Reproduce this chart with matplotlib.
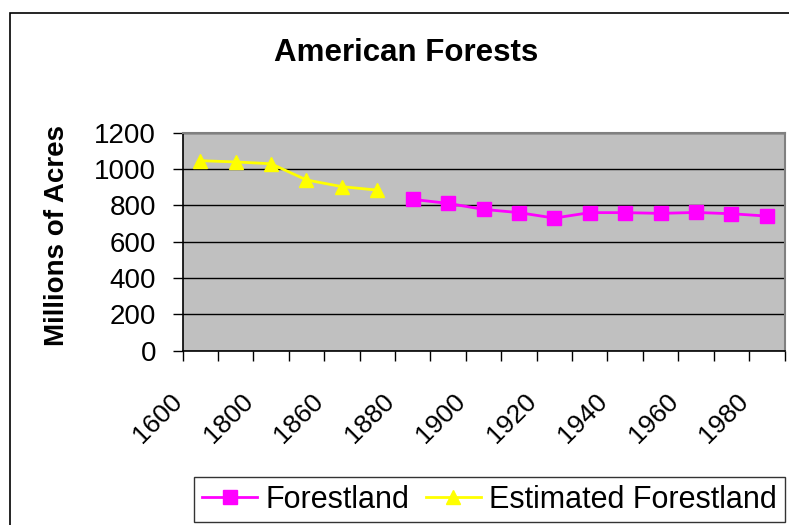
import matplotlib
matplotlib.use("Agg")
import matplotlib.pyplot as plt
from matplotlib.patches import Rectangle

plt.rcParams["font.family"] = ["Liberation Sans", "DejaVu Sans"]

# category axis (every other year gets a label)
years = ["1600", "1700", "1800", "1850", "1860", "1870", "1880", "1890", "1900",
         "1910", "1920", "1930", "1940", "1950", "1960", "1970", "1980"]
estimated = [1046, 1039, 1029, 940, 903, 884]
forestland = [833, 811, 778, 760, 730, 760, 760, 756, 761, 754, 741]

W, H = 789, 525
fig = plt.figure(figsize=(W / 100, H / 100), dpi=100)
fig.patch.set_facecolor("white")

# chart area border (cut off at right and bottom)
fig.patches.append(Rectangle((9.5 / W, -0.1), 1.2, (525 - 13) / H + 0.1,
                             transform=fig.transFigure, fill=False,
                             edgecolor="black", linewidth=1.2))

left, right, top, bottom = 182.5, 784.5, 132.7, 350.7
ax = fig.add_axes([left / W, (H - bottom) / H, (right - left) / W, (bottom - top) / H])
ax.set_facecolor("#C0C0C0")

x_est = list(range(len(estimated)))
x_for = list(range(len(estimated), len(estimated) + len(forestland)))

ax.plot(x_for, forestland, color="#FF00FF", lw=2, marker="s", markersize=10,
        markeredgecolor="#FF00FF", label="Forestland", zorder=3, clip_on=False)
ax.plot(x_est, estimated, color="#FFFF00", lw=2, marker="^", markersize=10,
        markeredgecolor="#FFFF00", label="Estimated Forestland", zorder=3, clip_on=False)

ax.set_xlim(-0.5, len(years) - 0.5)
ax.set_ylim(0, 1200)
ax.set_yticks(range(0, 1201, 200))
ax.yaxis.grid(True, color="black", lw=1)
ax.set_axisbelow(True)

ax.set_xticks([i - 0.5 for i in range(len(years) + 1)])
ax.set_xticklabels([])
ax.tick_params(axis="both", direction="out", length=7, width=1, color="black",
               labelsize=20)
ax.tick_params(axis="y", pad=12)

# slanted year labels on every other category
for i in range(0, len(years), 2):
    ax.text(i - 0.62, -258, years[i], rotation=45, rotation_mode="anchor",
            ha="right", va="center", fontsize=19, transform=ax.transData)

for s in ["top", "right"]:
    ax.spines[s].set_color("#808080")
    ax.spines[s].set_linewidth(1.5)
for s in ["left", "bottom"]:
    ax.spines[s].set_color("black")
    ax.spines[s].set_linewidth(1.2)

fig.text(406 / W, 1 - 61 / H, "American Forests", ha="center", va="baseline",
         fontsize=22.5, fontweight="bold")
fig.text(57.5 / W, 1 - 235 / H, "Millions of Acres", ha="center", va="center",
         rotation=90, fontsize=20, fontweight="bold")

leg = fig.legend(loc="center", bbox_to_anchor=(489.5 / W, 1 - 499.5 / H), ncol=2,
                 fontsize=22, frameon=True, fancybox=False, edgecolor="black",
                 handlelength=1.8, handletextpad=0.27, columnspacing=0.55,
                 borderpad=0.25, borderaxespad=0)
leg.get_frame().set_linewidth(1)

fig.savefig("out.png", dpi=100)
